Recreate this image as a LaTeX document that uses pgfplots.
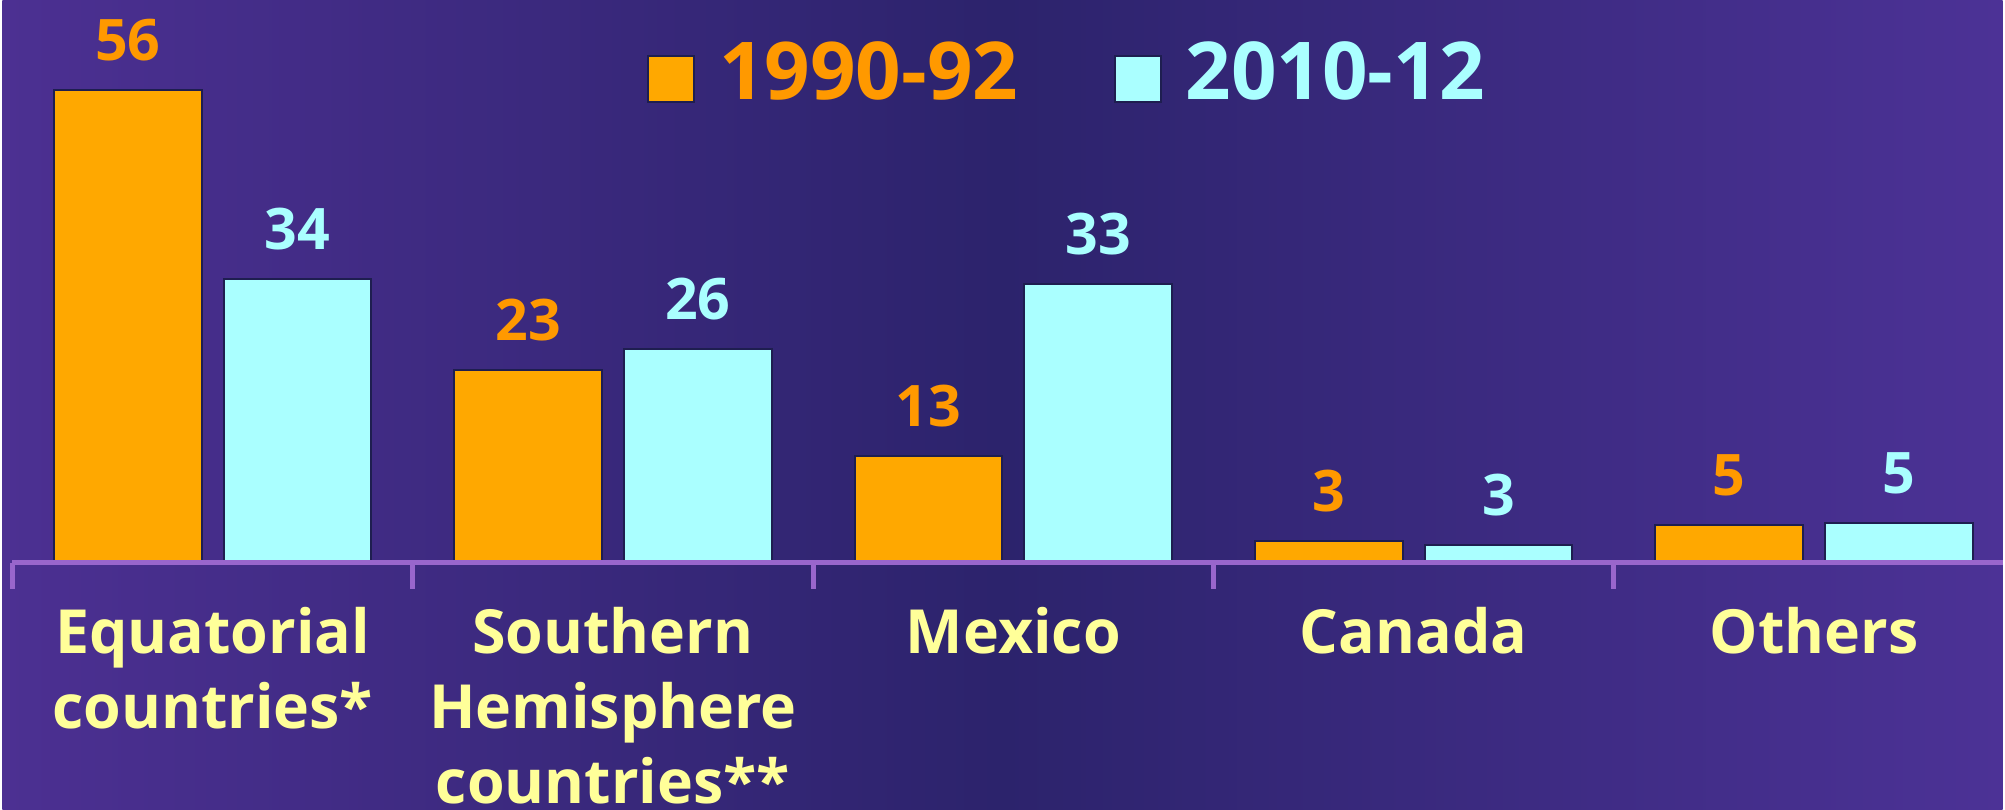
\documentclass[border=0pt]{standalone}
\usepackage{fontspec}
\setmainfont{Open Sans}
\usepackage{pgfplots}
\usepackage{pgfplotstable}
\pgfplotsset{compat=1.18}
\definecolor{barorange}{RGB}{255,168,0}
\definecolor{laborange}{RGB}{255,153,0}
\definecolor{barcyan}{RGB}{170,255,255}
\definecolor{labyellow}{RGB}{255,255,153}
\definecolor{axpurple}{RGB}{153,102,204}
\definecolor{bgin}{RGB}{44,35,108}
\definecolor{bgleft}{RGB}{76,48,146}
\definecolor{bgright}{RGB}{76,50,150}
\definecolor{barline}{RGB}{30,30,80}
\pgfplotsset{mysq/.style={legend image code/.code={\draw[##1, draw=barline, line width=1pt] (0pt,-15pt) rectangle (23pt,8pt);}}}

\pgfplotstableread{
x y lab
0 56 56
1 22.8 23
2 12.7 13
3 2.6 3
4 4.5 5
}\olddata
\pgfplotstableread{
x y lab
0 33.6 34
1 25.3 26
2 33 33
3 2.1 3
4 4.7 5
}\newdata

\begin{document}
\begin{tikzpicture}
\shade[left color=bgleft, right color=bgright, middle color=bgin] (0,0) rectangle (1002.5pt,405.5pt);
\begin{axis}[at={(0,0)}, anchor=south west, scale only axis,
  width=1002.5pt, height=405.5pt,
  xmin=-0.525, xmax=4.471, ymin=-29.2, ymax=66.7,
  axis x line=middle, axis y line=none, ytick=\empty,
  axis line style={-, axpurple, line width=2.5pt, shorten <=5pt},
  axis on top, clip=false,
  /pgf/number format/assume math mode=true,
  ybar,
  xtick={0,1,2,3,4},
  xticklabels={{Equatorial\\countries*},{Southern\\Hemisphere\\countries**},{Mexico},{Canada},{Others}},
  major tick length=0pt,
  xticklabel style={font=\fontsize{30.5}{37.7}\selectfont\bfseries, text=labyellow, align=center, inner sep=0pt, anchor=north, yshift=-22pt},
  extra x ticks={-0.5,0.5,1.5,2.5,3.5},
  extra x tick labels={},
  extra x tick style={major tick length=13pt, tick align=outside, tick style={axpurple, line width=2.5pt}},
  legend style={draw=none, fill=none, at={(0.5327,0.911)}, anchor=center,
    font=\fontsize{40}{42}\selectfont\bfseries,
    /tikz/every even column/.append style={column sep=46pt},
    /tikz/every odd column/.append style={column sep=10pt}},
  legend columns=2,
]
\addplot[ybar, bar width=74pt, bar shift=-42.5pt, fill=barorange, draw=barline, line width=1pt,
  point meta=explicit, nodes near coords,
  every node near coord/.append style={font=\fontsize{28.7}{30}\selectfont\bfseries, text=laborange, anchor=south, inner sep=0pt, yshift=14pt},
  mysq]
  table[x=x, y=y, meta=lab] {\olddata};
\addlegendentry{\textcolor{laborange}{1990-92}}
\addplot[ybar, bar width=74pt, bar shift=42.5pt, fill=barcyan, draw=barline, line width=1pt,
  point meta=explicit, nodes near coords,
  every node near coord/.append style={font=\fontsize{28.7}{30}\selectfont\bfseries, text=barcyan, anchor=south, inner sep=0pt, yshift=14pt},
  mysq]
  table[x=x, y=y, meta=lab] {\newdata};
\addlegendentry{\textcolor{barcyan}{2010-12}}
\end{axis}
\end{tikzpicture}
\end{document}
